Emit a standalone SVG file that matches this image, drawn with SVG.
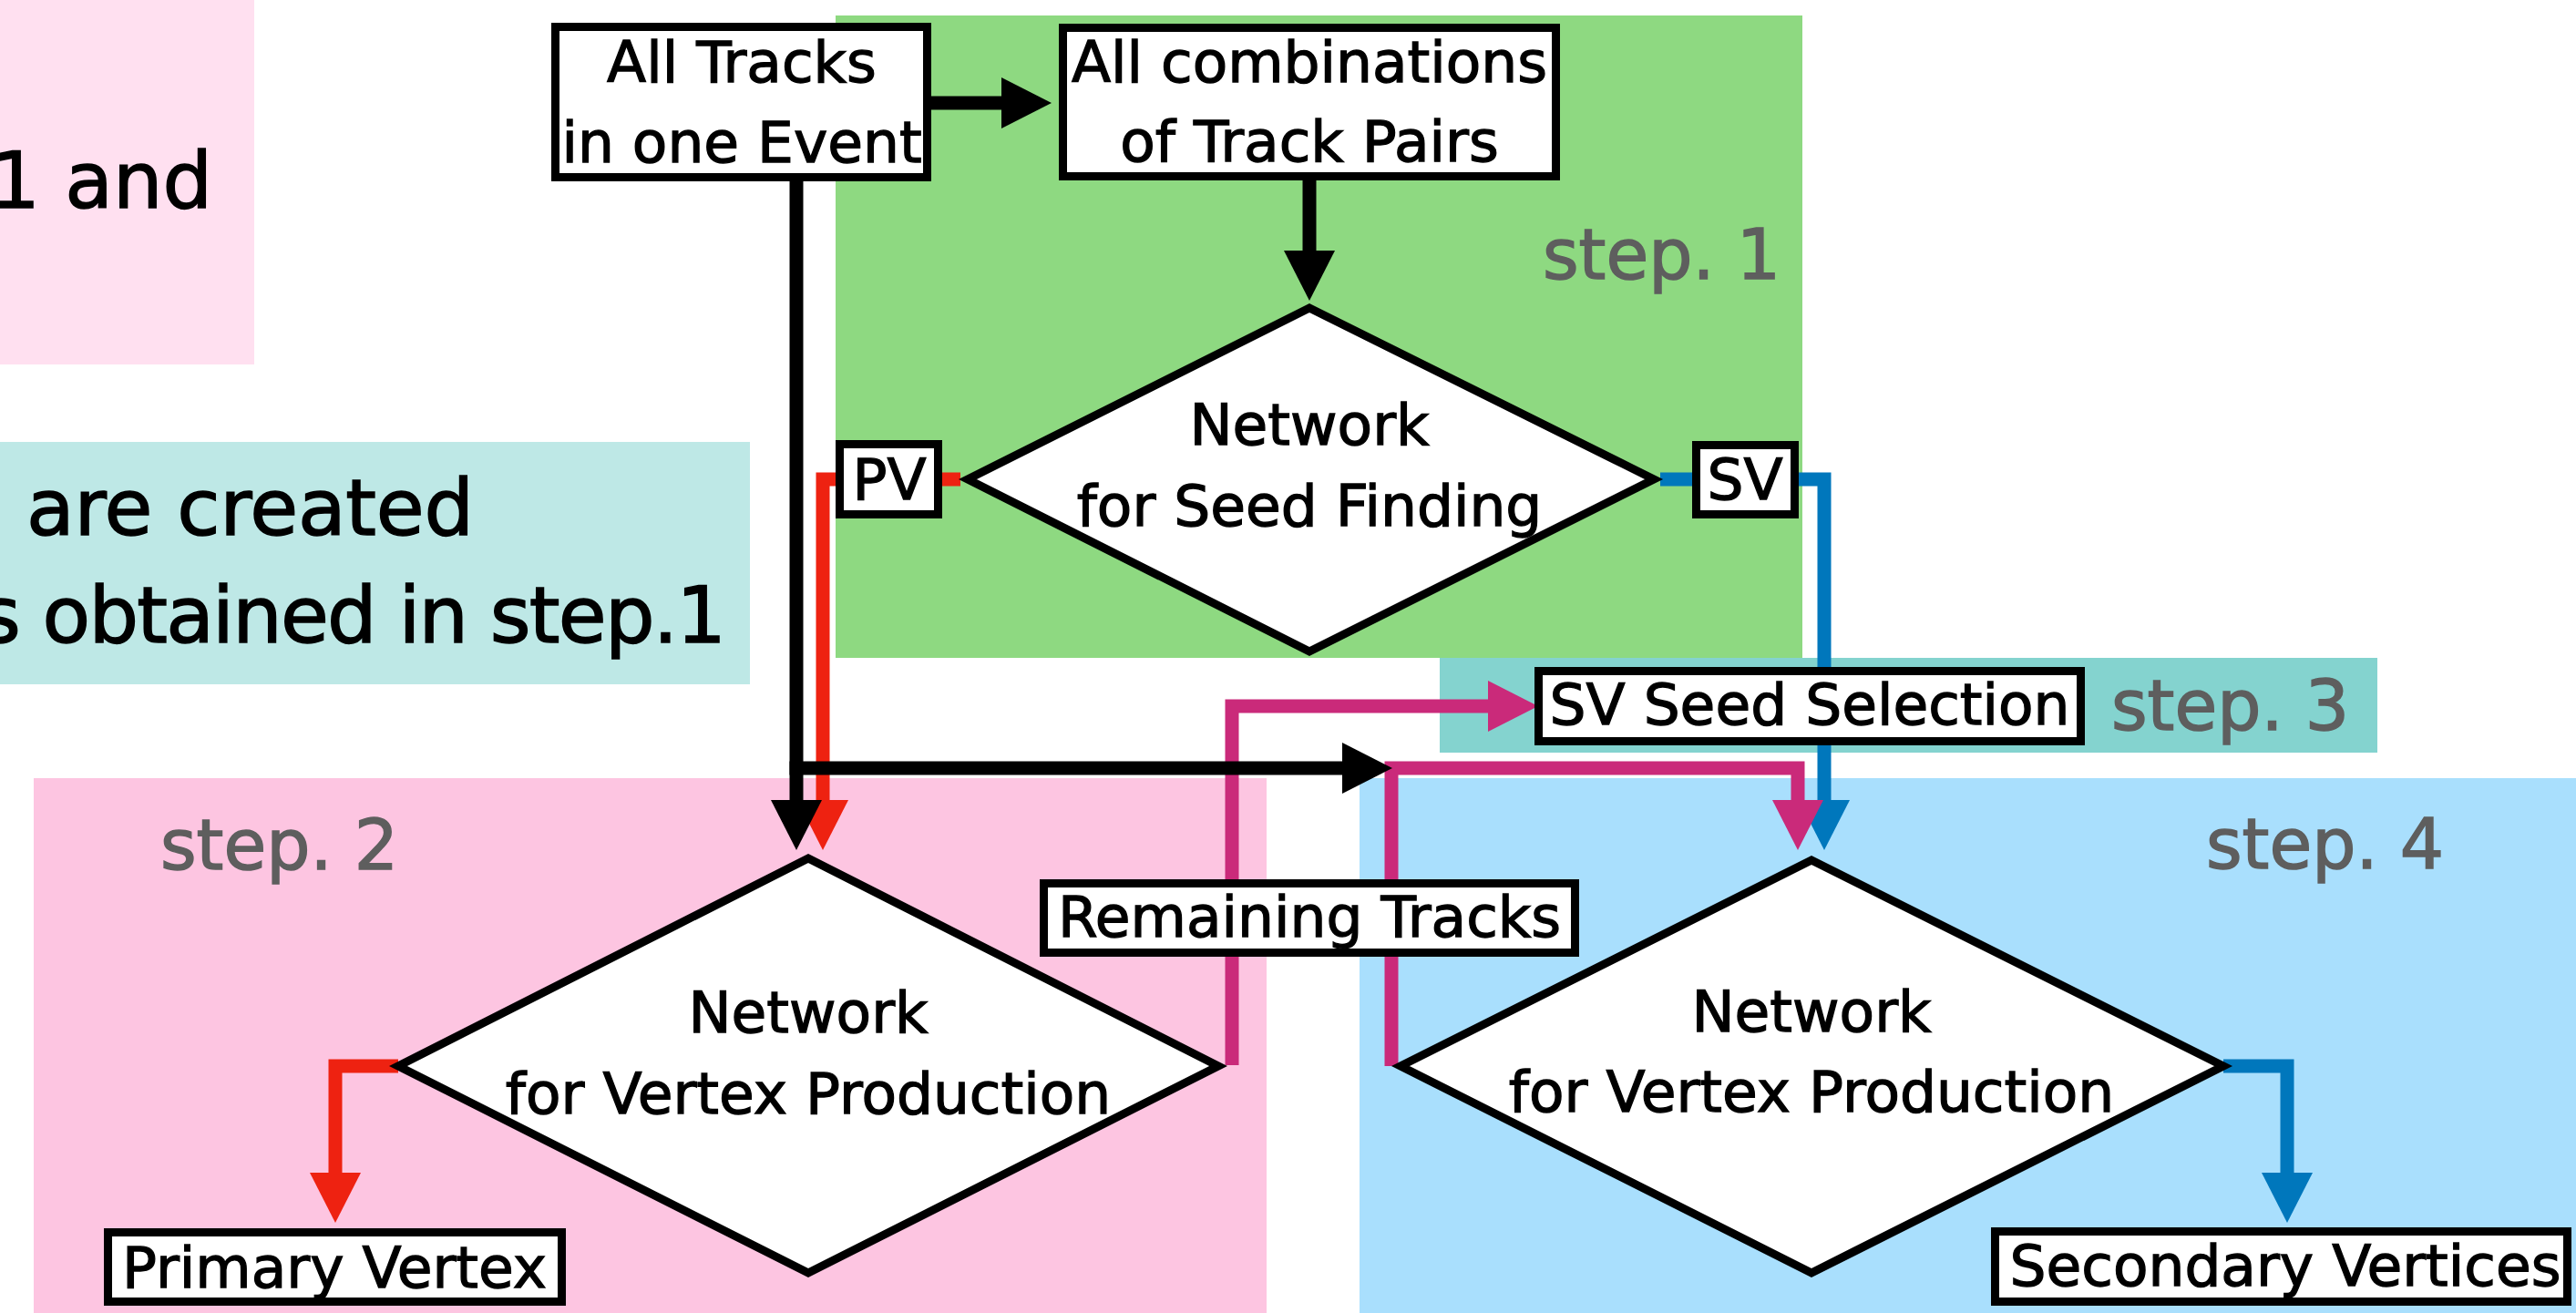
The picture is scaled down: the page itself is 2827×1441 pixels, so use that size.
<svg xmlns="http://www.w3.org/2000/svg" width="2827" height="1441" viewBox="0 0 2827 1441">
  <style>
    .lbl { font-family: "DejaVu Sans", "Liberation Sans", sans-serif; font-size: 63px; fill: #000; stroke: #000; stroke-width: 1.3; text-anchor: middle; }
    .note { font-family: "DejaVu Sans", "Liberation Sans", sans-serif; font-size: 86px; fill: #000; stroke: #000; stroke-width: 1.5; }
    .step { font-family: "DejaVu Sans", "Liberation Sans", sans-serif; font-size: 76px; fill: #5e5e5e; stroke: #5e5e5e; stroke-width: 1.5; }
    .box { fill: #fff; stroke: #000; stroke-width: 9; }
    .dia { fill: #fff; stroke: #000; stroke-width: 9; stroke-linejoin: miter; stroke-miterlimit: 10; }
    .wire { fill: none; stroke-width: 15; stroke-linejoin: miter; stroke-miterlimit: 10; }
    .k { stroke: #000; }
    .r { stroke: #ee2211; }
    .m { stroke: #ca2a7a; }
    .b { stroke: #0077bc; }
  </style>
  <defs>
    <marker id="ah-k" viewBox="0 0 55 56" markerWidth="55" markerHeight="56" refX="1" refY="28" orient="auto" markerUnits="userSpaceOnUse">
      <path d="M0,0 L55,28 L0,56 Z" fill="#000"/>
    </marker>
    <marker id="ah-r" viewBox="0 0 55 56" markerWidth="55" markerHeight="56" refX="1" refY="28" orient="auto" markerUnits="userSpaceOnUse">
      <path d="M0,0 L55,28 L0,56 Z" fill="#ee2211"/>
    </marker>
    <marker id="ah-m" viewBox="0 0 55 56" markerWidth="55" markerHeight="56" refX="1" refY="28" orient="auto" markerUnits="userSpaceOnUse">
      <path d="M0,0 L55,28 L0,56 Z" fill="#ca2a7a"/>
    </marker>
    <marker id="ah-b" viewBox="0 0 55 56" markerWidth="55" markerHeight="56" refX="1" refY="28" orient="auto" markerUnits="userSpaceOnUse">
      <path d="M0,0 L55,28 L0,56 Z" fill="#0077bc"/>
    </marker>
  </defs>

  <!-- background panels -->
  <g id="panels">
    <rect x="0" y="0" width="279" height="400" fill="#ffe0f0"/>
    <rect x="0" y="485" width="823" height="266" fill="#bee8e6"/>
    <rect x="917" y="17" width="1061" height="705" fill="#8ed981"/>
    <rect x="1580" y="722" width="1029" height="104" fill="#84d3cf"/>
    <rect x="37" y="854" width="1353" height="587" fill="#fdc5e1"/>
    <rect x="1492" y="854" width="1335" height="587" fill="#a9dffd"/>
  </g>

  <!-- side notes, running off the left edge -->
  <g id="notes">
    <text class="note" x="233" y="228" text-anchor="end">1 and</text>
    <text class="note" x="29" y="587" textLength="491">are created</text>
    <text class="note" x="-22" y="705" textLength="819">s obtained in step.1</text>
  </g>

  <!-- step captions -->
  <g id="steps">
    <text class="step" x="1693" y="306">step. 1</text>
    <text class="step" x="176" y="954">step. 2</text>
    <text class="step" x="2317" y="801">step. 3</text>
    <text class="step" x="2421" y="953">step. 4</text>
  </g>

  <!-- connectors -->
  <g id="connectors">
    <path class="wire r" d="M1054,526 H903 V879" marker-end="url(#ah-r)"/>
    <path class="wire b" d="M1822,526 H2002 V879" marker-end="url(#ah-b)"/>
    <path class="wire m" d="M1352,1169 V775 H1634" marker-end="url(#ah-m)"/>
    <path class="wire m" d="M1527,1170 V843 H1973 V879" marker-end="url(#ah-m)"/>
    <path class="wire r" d="M437,1170 H368 V1288" marker-end="url(#ah-r)"/>
    <path class="wire b" d="M2440,1170 H2510 V1288" marker-end="url(#ah-b)"/>
    <path class="wire k" d="M1022,113 H1100" marker-end="url(#ah-k)"/>
    <path class="wire k" d="M1437,198 V276" marker-end="url(#ah-k)"/>
    <path class="wire k" d="M874,199 V879" marker-end="url(#ah-k)"/>
    <path class="wire k" d="M866.5,843 H1474" marker-end="url(#ah-k)"/>
  </g>

  <!-- nodes -->
  <g id="all-tracks">
    <rect class="box" x="609.5" y="29.5" width="408" height="165"/>
    <text class="lbl" x="814" y="90">All Tracks</text>
    <text class="lbl" x="814" y="178">in one Event</text>
  </g>
  <g id="track-pairs">
    <rect class="box" x="1166.5" y="30.5" width="541" height="163"/>
    <text class="lbl" x="1437" y="90">All combinations</text>
    <text class="lbl" x="1437" y="177">of Track Pairs</text>
  </g>
  <g id="seed-network">
    <polygon class="dia" points="1437,338 1815,526 1437,715 1062,526"/>
    <text class="lbl" x="1437" y="488">Network</text>
    <text class="lbl" x="1437" y="577">for Seed Finding</text>
  </g>
  <g id="pv-out">
    <rect class="box" x="921.5" y="487.5" width="108" height="77"/>
    <text class="lbl" x="976" y="548">PV</text>
  </g>
  <g id="sv-out">
    <rect class="box" x="1861.5" y="488.5" width="108" height="76"/>
    <text class="lbl" x="1915" y="548">SV</text>
  </g>
  <g id="sv-seed-selection">
    <rect class="box" x="1688.5" y="736.5" width="595" height="77"/>
    <text class="lbl" x="1986" y="795">SV Seed Selection</text>
  </g>
  <g id="remaining-tracks">
    <rect class="box" x="1145.5" y="969.5" width="583" height="76"/>
    <text class="lbl" x="1437" y="1028">Remaining Tracks</text>
  </g>
  <g id="pv-network">
    <polygon class="dia" points="887,942 1337,1170 887,1397 437,1170"/>
    <text class="lbl" x="887" y="1133">Network</text>
    <text class="lbl" x="887" y="1222">for Vertex Production</text>
  </g>
  <g id="sv-network">
    <polygon class="dia" points="1988,944 2440,1170 1988,1397 1537,1170"/>
    <text class="lbl" x="1988" y="1132">Network</text>
    <text class="lbl" x="1988" y="1220">for Vertex Production</text>
  </g>
  <g id="primary-vertex">
    <rect class="box" x="118.5" y="1352.5" width="498" height="76"/>
    <text class="lbl" x="367" y="1413">Primary Vertex</text>
  </g>
  <g id="secondary-vertices">
    <rect class="box" x="2189.5" y="1351.5" width="628" height="77"/>
    <text class="lbl" x="2508" y="1411">Secondary Vertices</text>
  </g>
</svg>
